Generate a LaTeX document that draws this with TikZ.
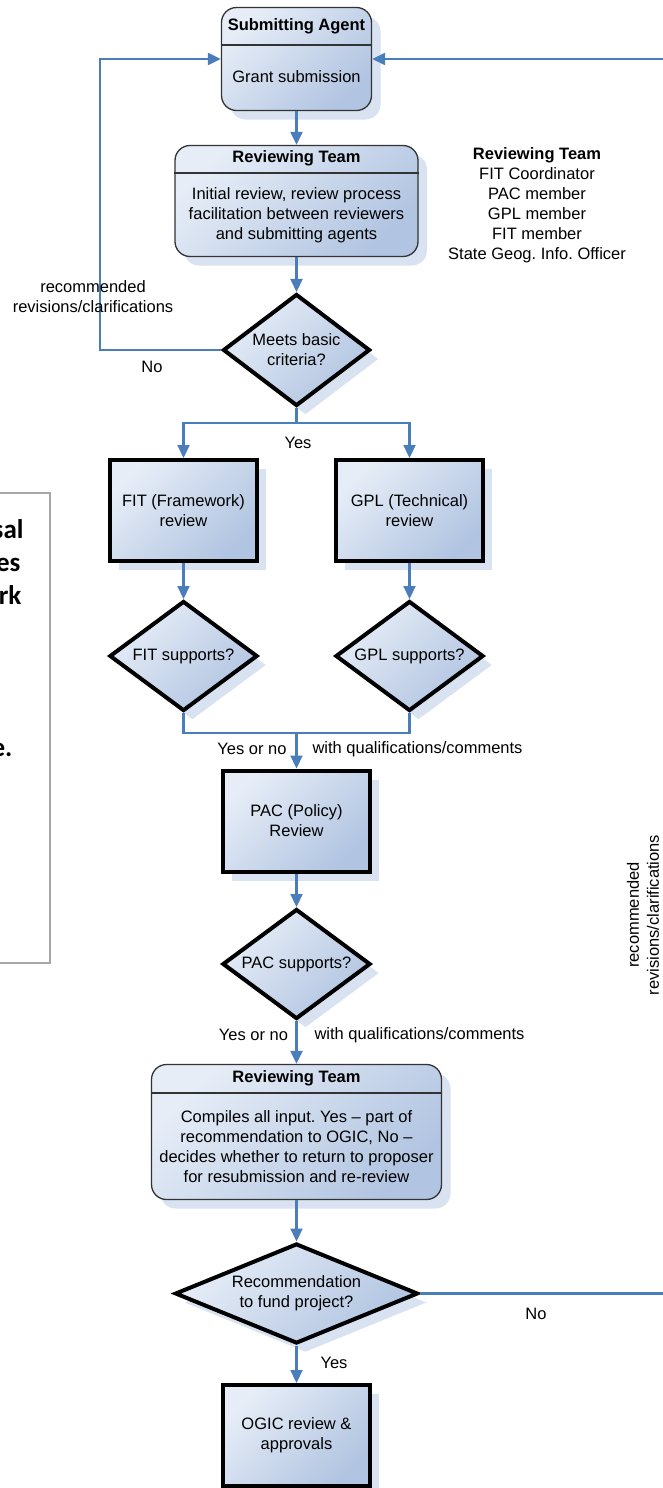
\documentclass[tikz,border=0pt]{standalone}
\usepackage{fontspec}
\setmainfont{Liberation Sans}
\newfontfamily\notefont{Carlito}
\usepackage{tikz}
\usetikzlibrary{arrows.meta}
\usetikzlibrary{shapes.geometric}
\usetikzlibrary{shadows}
\definecolor{flowblue}{HTML}{4A7EBB}
\definecolor{boxlight}{HTML}{E6EDF7}
\definecolor{boxdark}{HTML}{B1C4E1}
\definecolor{boxshadow}{HTML}{D8E2F0}
\definecolor{boxedge}{HTML}{333333}
\definecolor{notegray}{HTML}{A6A6A6}
\frenchspacing

\begin{document}
\begin{tikzpicture}[x=1pt,y=-1pt,font=\fontsize{16.5}{20}\selectfont,
	shade/.style={top color=boxlight,bottom color=boxdark,shading angle=45,
		drop shadow={shadow xshift=9pt,shadow yshift=-9pt,fill=boxshadow,opacity=1}},
	team/.style={shade,draw=boxedge,line width=1.3pt,rounded corners=15pt,inner sep=0pt},
	task/.style={shade,draw=black,line width=4pt,inner sep=0pt,minimum width=147pt,minimum height=101pt,align=center},
	decide/.style={shade,diamond,draw=black,line width=4pt,inner sep=0pt,align=center},
	flow/.style={draw=flowblue,line width=2.2pt,-{Triangle[length=13pt,width=12pt]}},
	link/.style={draw=flowblue,line width=2.2pt},
	divider/.style={draw=boxedge,line width=1.3pt},
	note/.style={anchor=base east,font={\notefont\fontsize{27}{33}\selectfont\bfseries}}]
					\useasboundingbox (0,0) rectangle (663,1488);
					\draw[notegray,line width=1.2pt] (-5,493) rectangle (50,963);
					\node[note] (n1) at (27,538) {sal};
					\node[note] (n2) at (24,571) {es};
					\node[note] (n3) at (25,604) {rk};
					\node[note] (n4) at (16,756) {e.};
					\node[team,minimum width=150pt,minimum height=103pt] (sa) at (296.5,59) {};
					\node[font=\fontsize{16.5}{20}\selectfont\bfseries] (satitle) at (296.5,26) {Submitting Agent};
					\draw[divider] (sa.west |- 0,45) -- (sa.east |- 0,45);
					\node (sabody) at (296.5,77) {Grant submission};
					\node[team,minimum width=243pt,minimum height=111pt] (rt1) at (296.5,201) {};
					\node[font=\fontsize{16.5}{20}\selectfont\bfseries] (rt1title) at (296.5,158) {Reviewing Team};
					\draw[divider] (rt1.west |- 0,173) -- (rt1.east |- 0,173);
					\node[align=center] (rt1body) at (296.5,215) {Initial review, review process\\facilitation between reviewers\\and submitting agents};
					\node[align=center] (members) at (537,205.5) {\textbf{Reviewing Team}\\FIT Coordinator\\PAC member\\GPL member\\FIT member\\State Geog. Info. Officer};
					\node[decide,minimum width=147pt,minimum height=112pt,shape aspect=1.3] (meets) at (296.5,350) {Meets basic\\criteria?};
					\node[task] (fit) at (183.5,510.5) {FIT (Framework)\\review};
					\node[task] (gpl) at (409.5,510.5) {GPL (Technical)\\review};
					\node[decide,minimum width=148pt,minimum height=110pt,shape aspect=1.3] (fitok) at (183.5,656) {FIT supports?};
					\node[decide,minimum width=148pt,minimum height=110pt,shape aspect=1.3] (gplok) at (409.5,656) {GPL supports?};
					\node[task] (pac) at (296.5,821) {PAC (Policy)\\Review};
					\node[decide,minimum width=148pt,minimum height=110pt,shape aspect=1.3] (pacok) at (296.5,964) {PAC supports?};
					\node[team,minimum width=290pt,minimum height=135pt] (rt2) at (296.5,1132) {};
					\node[font=\fontsize{16.5}{20}\selectfont\bfseries] (rt2title) at (296.5,1078) {Reviewing Team};
					\draw[divider] (rt2.west |- 0,1093) -- (rt2.east |- 0,1093);
					\node[align=center] (rt2body) at (296.5,1146.5) {Compiles all input. Yes -- part of\\recommendation to OGIC, No --\\decides whether to return to proposer\\for resubmission and re-review};
					\node[decide,minimum width=243pt,minimum height=100pt,shape aspect=2.3] (fund) at (296.5,1293.5) {Recommendation\\to fund project?};
					\node[task] (ogic) at (296.5,1435.5) {OGIC review \&\\approvals};
					\coordinate (backl) at (100,350);
					\coordinate (split) at (296.5,423);
					\coordinate (join) at (296.5,733);
					\coordinate (backr) at (700,1293.5);
					\draw[flow] (sa) -- (rt1);
					\draw[flow] (rt1) -- (meets);
					\draw[flow] (meets.west) -- (backl) |- (sa.west);
					\draw[flow] (meets.south) -- (split) -| (fit.north);
					\draw[flow] (split) -| (gpl.north);
					\draw[flow] (fit) -- (fitok);
					\draw[flow] (gpl) -- (gplok);
					\draw[link] (fitok.south) |- (join) -| (gplok.south);
					\draw[flow] (join) -- (pac.north);
					\draw[flow] (pac) -- (pacok);
					\draw[flow] (pacok) -- (rt2);
					\draw[flow] (rt2) -- (fund);
					\draw[flow] (fund) -- (ogic);
					\draw[flow] (fund.east) -- (backr) |- (sa.east);
					\node[align=center] (backllbl) at (93,297) {recommended\\revisions/clarifications};
					\node (nol) at (152,367) {No};
					\node (yesl) at (298,443) {Yes};
					\node (yn1) at (252,749) {Yes or no};
					\node (qc1) at (417.5,749) {with qualifications/comments};
					\node (yn2) at (253.5,1035) {Yes or no};
					\node (qc2) at (419.5,1035) {with qualifications/comments};
					\node (nor) at (536,1314) {No};
					\node (yesr) at (334,1363) {Yes};
					\node[rotate=90,align=center] (backrlbl) at (643,915) {recommended\\revisions/clarifications};
				\end{tikzpicture}
\end{document}
